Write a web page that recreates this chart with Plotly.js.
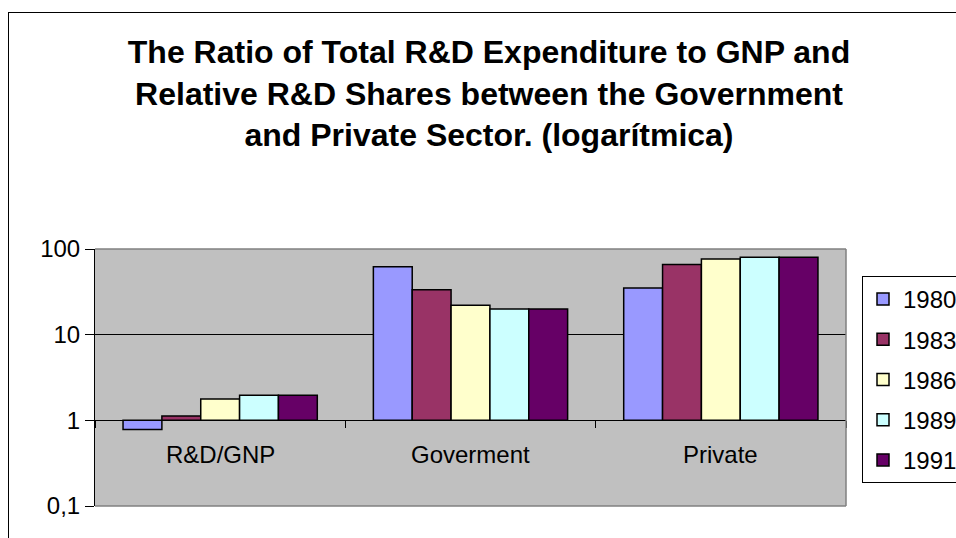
<!DOCTYPE html>
<html>
<head>
<meta charset="utf-8">
<script src="https://cdn.plot.ly/plotly-3.0.1.min.js"></script>
<style>
html,body{margin:0;padding:0;background:#fff;}
#wrap{position:relative;width:956px;height:538px;overflow:hidden;}
#chart{width:956px;height:538px;}
#frame{position:absolute;left:8px;top:12px;width:1000px;height:600px;border-left:1px solid #000;border-top:1px solid #000;pointer-events:none;}
</style>
</head>
<body>
<div id="wrap"><div id="chart"></div><div id="frame"></div></div>
<script>
// ---- data ----
const categories = ["R&D/GNP", "Goverment", "Private"];
const seriesNames = ["1980", "1983", "1986", "1989", "1991"];
const v1980 = [0.78, 62, 35];
const v1983 = [1.12, 33.5, 66];
const v1986 = [1.78, 22, 76.5];
const v1989 = [1.96, 20, 80];
const v1991 = [1.96, 20, 80];
const yTickVals = [0.1, 1, 10, 100];
const yTickText = ["0,1", "1", "10", "100"];
const titleText = "The Ratio of Total R&D Expenditure to GNP and<br>Relative R&D Shares between the Government<br>and Private Sector. (logarítmica)";

const colors = ["#9999FF", "#993366", "#FFFFCC", "#CCFFFF", "#660066"];
const allSeries = [v1980, v1983, v1986, v1989, v1991];
const baseVal = 1;

const traces = allSeries.map((vals, i) => ({
  type: "bar",
  name: seriesNames[i],
  x: categories,
  base: baseVal,
  y: vals.map(v => v - baseVal),
  marker: {color: colors[i], line: {color: "#000", width: 1.5}},
  legendgroup: "g" + i,
  hoverinfo: "skip"
}));

const FONT = "Arial, 'Liberation Sans', sans-serif";

// pixel helpers for plot area geometry
const L = 95, R = 846, T = 249, B = 506;
const px = x => (x - L) / (R - L);
const py = y => (B - y) / (B - T);

const layout = {
  width: 956, height: 538,
  margin: {l: L, r: 956 - R, t: T, b: 538 - B, autoexpand: false},
  paper_bgcolor: "#ffffff",
  plot_bgcolor: "#C0C0C0",
  font: {family: FONT, size: 24, color: "#000"},
  title: {
    text: titleText,
    font: {family: FONT, size: 32, color: "#000", weight: "bold"},
    x: 489 / 956, xanchor: "center", xref: "container",
    y: 1 - 63 / 538, yanchor: "top", yref: "container"
  },
  barmode: "group",
  bargap: 0.224,
  bargroupgap: 0,
  showlegend: true,
  legend: {
    x: px(862), xanchor: "left",
    y: py(276), yanchor: "top",
    bordercolor: "#000", borderwidth: 1,
    bgcolor: "#fff",
    font: {family: FONT, size: 24, color: "#000"},
    tracegroupgap: 6,
    traceorder: "grouped"
  },
  xaxis: {
    type: "category",
    range: [-0.5, 2.5],
    anchor: "free", position: 1 / 3,
    showline: false, showgrid: false, zeroline: false,
    ticks: "outside", tickson: "boundaries", ticklen: 7, tickcolor: "#000", tickwidth: 1,
    showticklabels: false,
    fixedrange: true
  },
  yaxis: {
    type: "log",
    range: [-1, 2],
    domain: [0, 1],
    tickvals: yTickVals, ticktext: yTickText,
    ticks: "outside", ticklen: 9, tickcolor: "#000",
    showline: true, linecolor: "#000", linewidth: 1,
    showgrid: true, gridcolor: "#000", gridwidth: 1,
    zeroline: false,
    tickfont: {family: FONT, size: 24, color: "#000"},
    fixedrange: true
  },
  annotations: categories.map(c => ({
    x: c, y: -0.40, xref: "x", yref: "y",
    text: c, showarrow: false,
    font: {family: FONT, size: 24, color: "#000"},
    xanchor: "center", yanchor: "middle"
  })),
  shapes: [
    // plot border (gray) top, right, bottom
    {type: "line", xref: "paper", yref: "paper", x0: 0, x1: 1, y0: 1, y1: 1, line: {color: "#808080", width: 1.5}, layer: "above"},
    {type: "line", xref: "paper", yref: "paper", x0: 1, x1: 1, y0: 0, y1: 1, line: {color: "#808080", width: 1.5}, layer: "above"},
    {type: "line", xref: "paper", yref: "paper", x0: 0, x1: 1, y0: 0, y1: 0, line: {color: "#808080", width: 1.5}, layer: "above"}
  ]
};

Plotly.newPlot("chart", traces, layout, {displayModeBar: false, staticPlot: true});
</script>
</body>
</html>
